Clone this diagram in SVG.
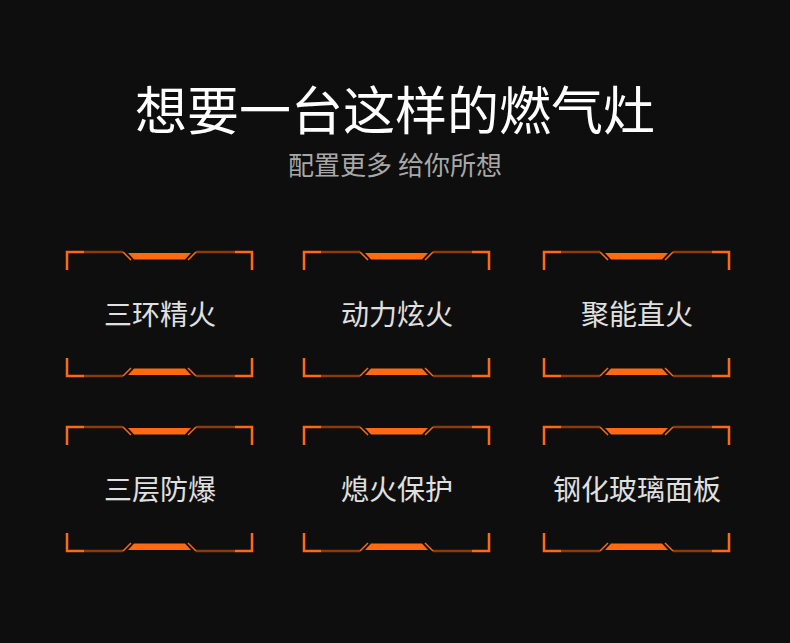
<svg xmlns="http://www.w3.org/2000/svg" width="790" height="643" viewBox="0 0 790 643">
<style>
.b{fill:none;stroke:#ff6a10;stroke-width:2.5}
.d{fill:none;stroke:#8a3a0c;stroke-width:2.5}
.t{fill:#ff6a10}
.dl{fill:none;stroke:#ff6a10;stroke-width:1.5}
.lbl{font-family:"Noto Sans CJK SC",sans-serif;font-size:28px;fill:#e0e0e0;text-anchor:middle}
</style>
<defs>
<g id="half">
<polyline class="b" points="1,19 1,1 18,1"/>
<polyline class="b" points="169,1 186,1 186,19"/>
<line class="d" x1="18" y1="1" x2="57" y2="1"/>
<line class="d" x1="130" y1="1" x2="169" y2="1"/>
<line class="dl" x1="57" y1="1" x2="65" y2="9"/>
<line class="dl" x1="130" y1="1" x2="122" y2="9"/>
<polygon class="t" points="62,2 125,2 119,8.5 68,8.5"/>
</g>
<g id="frame">
<use href="#half"/>
<use href="#half" transform="translate(0,126) scale(1,-1)"/>
</g>
</defs>
<rect width="790" height="643" fill="#0e0e0e"/>
<text x="395" y="130" font-family="Noto Sans CJK SC,sans-serif" font-size="52" fill="#ffffff" text-anchor="middle">想要一台这样的燃气灶</text>
<text x="395" y="175" font-family="Noto Sans CJK SC,sans-serif" font-size="26" fill="#a8a8a8" text-anchor="middle">配置更多 给你所想</text>
<g id="n1"><use href="#frame" x="66" y="251"/><text class="lbl" x="160" y="325">三环精火</text></g>
<g id="n2"><use href="#frame" x="303" y="251"/><text class="lbl" x="397" y="325">动力炫火</text></g>
<g id="n3"><use href="#frame" x="543" y="251"/><text class="lbl" x="637" y="325">聚能直火</text></g>
<g id="n4"><use href="#frame" x="66" y="426"/><text class="lbl" x="160" y="500">三层防爆</text></g>
<g id="n5"><use href="#frame" x="303" y="426"/><text class="lbl" x="397" y="500">熄火保护</text></g>
<g id="n6"><use href="#frame" x="543" y="426"/><text class="lbl" x="637" y="500">钢化玻璃面板</text></g>
<g id="connectors"/>
</svg>
